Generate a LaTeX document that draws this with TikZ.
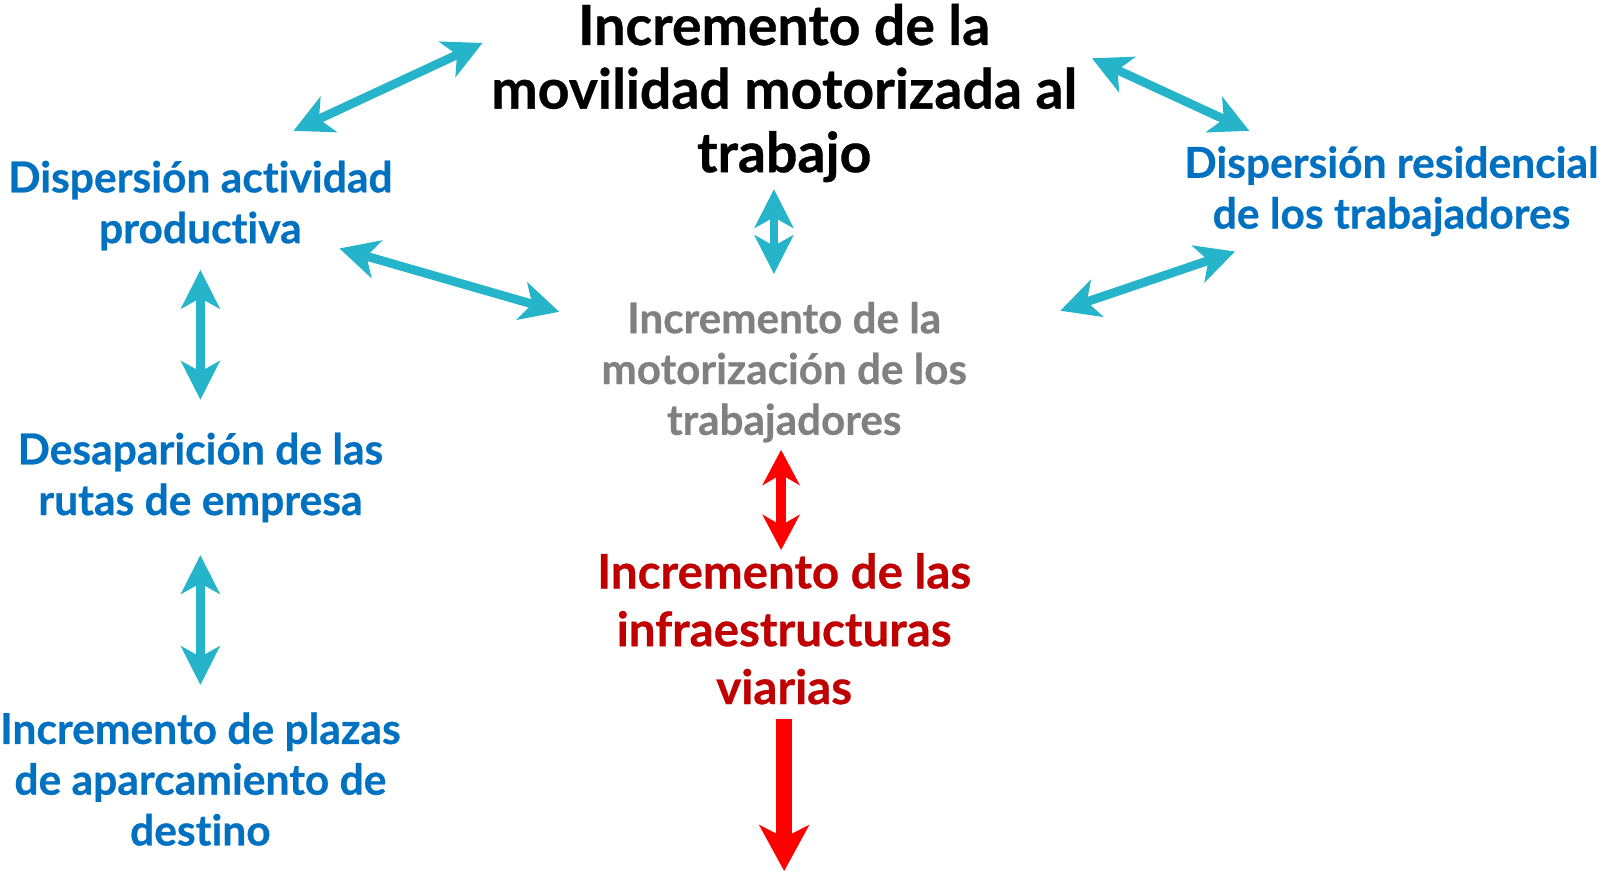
\documentclass[tikz,border=0pt]{standalone}
\usepackage{fontspec}
\setmainfont{Lato}[Ligatures=NoCommon, BoldFeatures={FakeBold=0.6}]
\usepackage{xcolor}
\usetikzlibrary{arrows.meta}
\definecolor{flecha}{HTML}{25B4C9}
\definecolor{azul}{HTML}{0070C0}
\definecolor{gris}{HTML}{808080}
\definecolor{rojo}{HTML}{C00000}
\definecolor{rojoflecha}{HTML}{FF0000}
\tikzset{
  efecto/.style={align=center, font=\bfseries\fontsize{24.2}{28.9}\selectfont, text=azul, inner sep=0pt},
  doble/.style={line width=5pt, color=flecha, {Stealth[length=22pt,width=22pt,inset=6pt]}-{Stealth[length=22pt,width=22pt,inset=6pt]}},
  dobleroja/.style={line width=6pt, color=rojoflecha, {Stealth[length=20pt,width=21pt,inset=6pt]}-{Stealth[length=20pt,width=21pt,inset=6pt]}},
}

\begin{document}
\begin{tikzpicture}[x=0.02045cm, y=-0.02045cm]
				\useasboundingbox (0,0) rectangle (1564,856);
				% nodos
				\node[efecto, text=black, font=\bfseries\fontsize{31.5}{36.2}\selectfont] (movilidad) at (767,91)
					{Incremento de la\\movilidad motorizada al\\trabajo};
				\node[efecto] (actividad) at (196,201) {Dispersión actividad\\productiva};
				\node[efecto] (residencial) at (1361,187) {Dispersión residencial\\de los trabajadores};
				\node[efecto, text=gris, font=\bfseries\fontsize{24}{28.9}\selectfont] (motorizacion) at (767,364)
					{Incremento de la\\motorización de los\\trabajadores};
				\node[efecto] (rutas) at (196,467) {Desaparición de las\\rutas de empresa};
				\node[efecto] (plazas) at (196,762)
					{Incremento de plazas\\de aparcamiento de\\destino};
				\node[efecto, text=rojo, font=\bfseries\fontsize{27}{32.9}\selectfont] (viarias) at (767,615)
					{Incremento de las\\infraestructuras\\viarias};
				% extremos de las flechas
				\coordinate (a1) at (287,128); \coordinate (a2) at (472,42);
				\coordinate (b1) at (1068,57); \coordinate (b2) at (1222,128);
				\coordinate (c1) at (757,185); \coordinate (c2) at (757,268);
				\coordinate (d1) at (332,243); \coordinate (d2) at (547,305);
				\coordinate (e1) at (1037,304); \coordinate (e2) at (1208,246);
				\coordinate (f1) at (196,264); \coordinate (f2) at (196,391);
				\coordinate (g1) at (196,543); \coordinate (g2) at (196,670);
				\coordinate (h1) at (764,440); \coordinate (h2) at (764,538);
				\coordinate (i1) at (767,703); \coordinate (i2) at (767,852);
				% flechas
				\draw[doble] (a1) -- (a2);
				\draw[doble] (b1) -- (b2);
				\draw[doble] (c1) -- (c2);
				\draw[doble] (d1) -- (d2);
				\draw[doble] (e1) -- (e2);
				\draw[doble] (f1) -- (f2);
				\draw[doble] (g1) -- (g2);
				\draw[dobleroja] (h1) -- (h2);
				\draw[line width=9pt, color=rojoflecha, -{Stealth[length=26pt,width=28pt,inset=7pt]}] (i1) -- (i2);
			\end{tikzpicture}
\end{document}
